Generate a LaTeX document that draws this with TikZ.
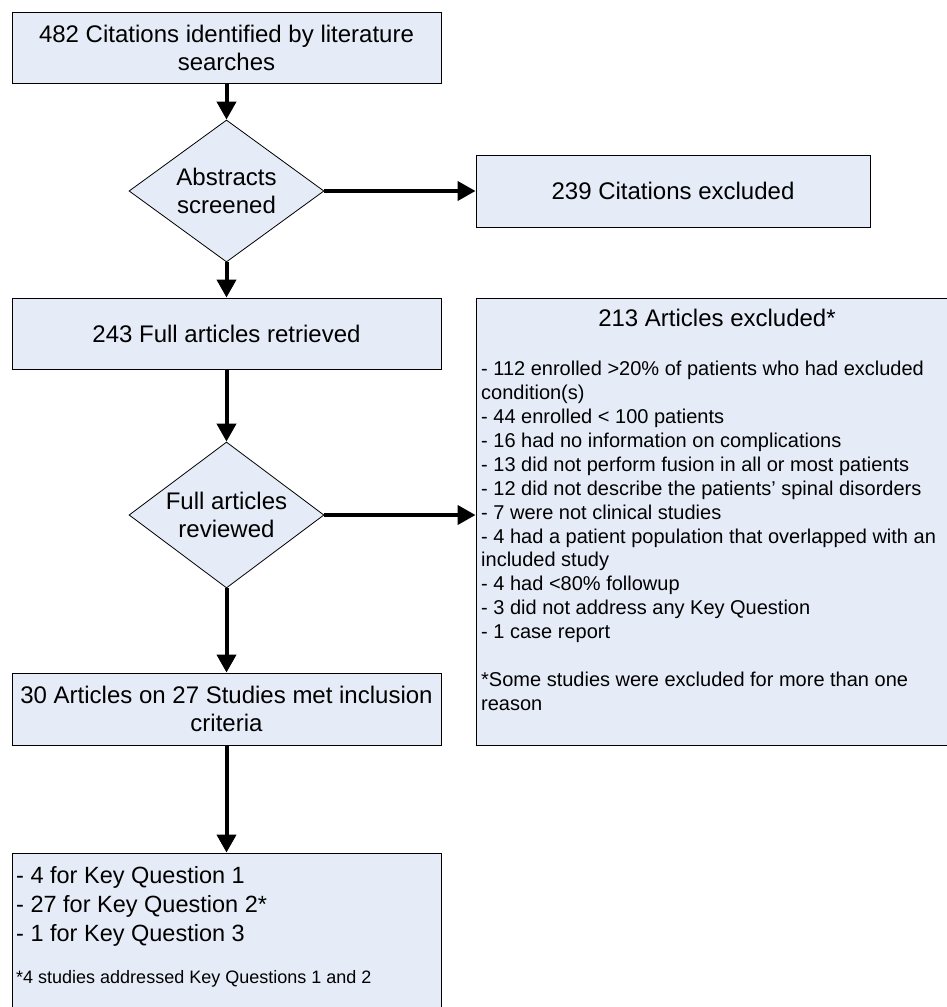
\documentclass[tikz,border=0pt]{standalone}
\usepackage{fontspec}
\setmainfont{Liberation Sans}
\usetikzlibrary{arrows.meta,shapes.geometric,shadows}
\definecolor{boxblue}{RGB}{230,236,247}

\begin{document}
\begin{tikzpicture}[x=1pt,y=-1pt,
    box/.style={rectangle,draw=black,line width=0.9pt,fill=boxblue,inner sep=0pt,
      drop shadow={shadow xshift=1.3pt,shadow yshift=-1.3pt,fill=black,opacity=0.45}},
    decide/.style={diamond,draw=black,line width=0.8pt,fill=boxblue,inner sep=0pt,
      shape aspect=1.37,align=center},
    flow/.style={-{Triangle[length=18pt,width=19pt]},line width=4pt},
    bigtxt/.style={font=\fontsize{24}{28}\selectfont}]
  % page size
  \useasboundingbox (0,0) rectangle (946,1007);
  % main column
  \node[box,bigtxt,minimum width=429,minimum height=71,align=center] (cites) at (226.5,47.5)
    {482 Citations identified by literature\\searches};
  \node[decide,bigtxt,minimum width=195,minimum height=142] (abstr) at (226.5,191)
    {Abstracts\\screened};
  \node[box,bigtxt,minimum width=429,minimum height=71] (fullart) at (226.5,333.5)
    {243 Full articles retrieved};
  \node[decide,bigtxt,minimum width=195,minimum height=146] (review) at (226.5,515)
    {Full articles\\reviewed};
  \node[box,bigtxt,minimum width=429,minimum height=72,align=center] (incl) at (226.5,709)
    {30 Articles on 27 Studies met inclusion\\criteria};
  \node[box,minimum width=429,minimum height=170] (keyq) at (226.5,938) {};
  \node[font=\fontsize{23.5}{29}\selectfont,align=left,anchor=north west,inner sep=0pt]
    (keyqlist) at (16,866)
    {- 4 for Key Question 1\\- 27 for Key Question 2*\\- 1 for Key Question 3};
  \node[font=\fontsize{18}{21}\selectfont,anchor=base west,inner sep=0pt] (keyqnote) at (16,983)
    {*4 studies addressed Key Questions 1 and 2};
  % exclusions
  \node[box,bigtxt,minimum width=394,minimum height=72] (citex) at (673,191)
    {239 Citations excluded};
  \node[box,minimum width=482,minimum height=447] (artex) at (717,521.5) {};
  \node[bigtxt] (artexhead) at (717,318) {213 Articles excluded*};
  \node[font=\fontsize{20}{23.9}\selectfont,align=left,anchor=north west,inner sep=0pt]
    (artexlist) at (481,361)
    {- 112 enrolled >20\% of patients who had excluded\\
     condition(s)\\
     - 44 enrolled < 100 patients\\
     - 16 had no information on complications\\
     - 13 did not perform fusion in all or most patients\\
     - 12 did not describe the patients’ spinal disorders\\
     - 7 were not clinical studies\\
     - 4 had a patient population that overlapped with an\\
     included study\\
     - 4 had <80\% followup\\
     - 3 did not address any Key Question\\
     - 1 case report\\[23.9pt]
     *Some studies were excluded for more than one\\
     reason};
  % arrows
  \draw[flow] (cites.south) -- (abstr.north);
  \draw[flow] (abstr.east) -- (citex.west);
  \draw[flow] (abstr.south) -- (fullart.north);
  \draw[flow] (fullart.south) -- (review.north);
  \draw[flow] (review.east) -- (review.east -| artex.west);
  \draw[flow] (review.south) -- (incl.north);
  \draw[flow] (incl.south) -- (keyq.north);
\end{tikzpicture}
\end{document}
